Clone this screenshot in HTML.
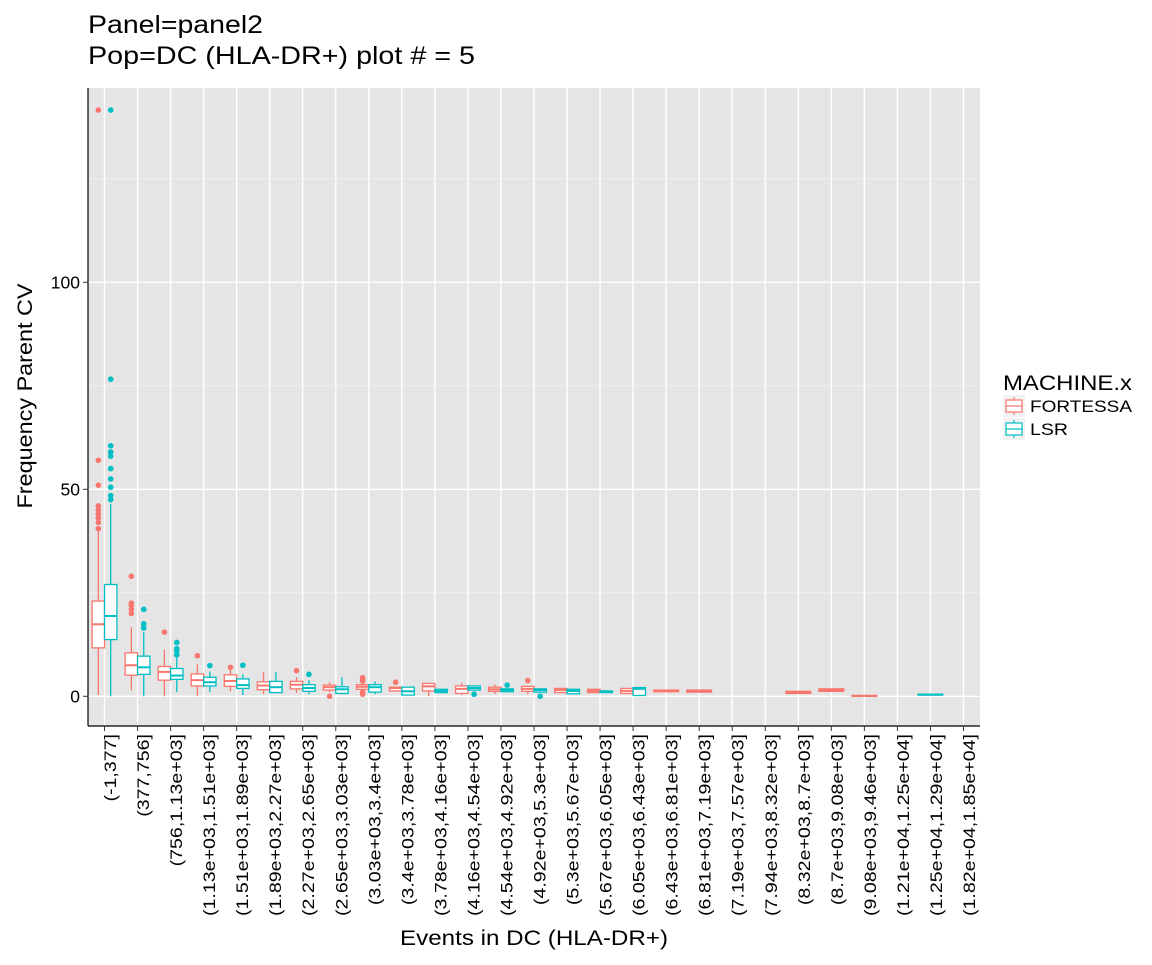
<!DOCTYPE html>
<html><head><meta charset="utf-8"><style>
body{margin:0;background:#fff;}
svg text{font-family:"Liberation Sans",Arial,sans-serif;}
</style></head><body>
<svg id="chart" width="1152" height="960" viewBox="0 0 1152 960">
<text x="88" y="33" font-size="25" fill="#000" textLength="175" lengthAdjust="spacingAndGlyphs">Panel=panel2</text>
<text x="88" y="64" font-size="25" fill="#000" textLength="387" lengthAdjust="spacingAndGlyphs">Pop=DC (HLA-DR+) plot # = 5</text>
<rect x="88" y="88" width="892" height="638" fill="#e5e5e5"/>
<g id="grid"></g>
<g id="marks"></g>
<line x1="88" y1="88" x2="88" y2="726" stroke="#000" stroke-width="1.2"/>
<line x1="88" y1="726" x2="980" y2="726" stroke="#000" stroke-width="1.2"/>
<g id="axes"></g>
<text transform="translate(32,396) rotate(-90)" text-anchor="middle" font-size="21" textLength="225" lengthAdjust="spacingAndGlyphs">Frequency Parent CV</text>
<text x="534" y="945" text-anchor="middle" font-size="21" textLength="268" lengthAdjust="spacingAndGlyphs">Events in DC (HLA-DR+)</text>
<g>
<text x="1003" y="390" font-size="21" textLength="129" lengthAdjust="spacingAndGlyphs">MACHINE.x</text>
<g>
<rect x="1003" y="395" width="22" height="22" fill="#f2f2f2"/>
<line x1="1014" y1="397" x2="1014" y2="415" stroke="#F8766D" stroke-width="1.2"/>
<rect x="1006" y="400" width="16" height="12" fill="#fff" stroke="#F8766D" stroke-width="1.2"/>
<line x1="1006" y1="406" x2="1022" y2="406" stroke="#F8766D" stroke-width="1.2"/>
<text x="1030" y="412" font-size="17" textLength="102" lengthAdjust="spacingAndGlyphs">FORTESSA</text></g>
<g>
<rect x="1003" y="418" width="22" height="22" fill="#f2f2f2"/>
<line x1="1014" y1="420" x2="1014" y2="438" stroke="#00BFC4" stroke-width="1.2"/>
<rect x="1006" y="423" width="16" height="12" fill="#fff" stroke="#00BFC4" stroke-width="1.2"/>
<line x1="1006" y1="429" x2="1022" y2="429" stroke="#00BFC4" stroke-width="1.2"/>
<text x="1030" y="435" font-size="17" textLength="38" lengthAdjust="spacingAndGlyphs">LSR</text></g>
</g>
</svg>
<script>
const categories = ["(-1,377]","(377,756]","(756,1.13e+03]","(1.13e+03,1.51e+03]","(1.51e+03,1.89e+03]","(1.89e+03,2.27e+03]","(2.27e+03,2.65e+03]","(2.65e+03,3.03e+03]","(3.03e+03,3.4e+03]","(3.4e+03,3.78e+03]","(3.78e+03,4.16e+03]","(4.16e+03,4.54e+03]","(4.54e+03,4.92e+03]","(4.92e+03,5.3e+03]","(5.3e+03,5.67e+03]","(5.67e+03,6.05e+03]","(6.05e+03,6.43e+03]","(6.43e+03,6.81e+03]","(6.81e+03,7.19e+03]","(7.19e+03,7.57e+03]","(7.94e+03,8.32e+03]","(8.32e+03,8.7e+03]","(8.7e+03,9.08e+03]","(9.08e+03,9.46e+03]","(1.21e+04,1.25e+04]","(1.25e+04,1.29e+04]","(1.82e+04,1.85e+04]"];
const yTicks = [0, 50, 100];
const yMinor = [25, 75, 125];
// [lowerWhisker, q1, median, q3, upperWhisker] per category (null = no data)
const fortessaStats = [
 [0.3,11.7,17.4,23,40],[1.4,5.1,7.5,10.5,16.7],[0,3.9,5.9,7.2,11.3],[0,2.5,3.9,5.4,7.7],[1.2,2.4,3.7,5.2,6.5],
 [0.5,1.6,2.6,3.5,5.8],[0.8,1.8,2.8,3.6,4.6],[1,1.5,2.2,2.7,3.4],[1,1.7,2.3,2.8,3.5],[1.3,1.3,2,2.2,2.2],
 [0,1.3,2.4,3.1,3.1],[0.3,0.7,1.8,2.5,3.3],[0.5,1.2,1.7,2.2,2.9],[0.5,1.2,1.8,2.4,2.4],[0.9,0.9,1.5,1.9,1.9],
 [0.9,0.9,1.3,1.7,1.7],[0.7,0.7,1.3,1.9,1.9],[1.1,1.1,1.3,1.5,1.5],[1.0,1.0,1.2,1.5,1.5],null,null,
 [0.7,0.7,1.0,1.2,1.2],[1.2,1.2,1.5,1.8,1.8],[0,0,0.1,0.2,0.2],null,null,null];
const lsrStats = [
 [0,13.7,19.4,27,46.5],[0,5.3,7,9.7,15.5],[1,4.1,5,6.7,9.3],[1,2.5,3.4,4.6,6],[0.3,1.9,2.7,4.2,5.3],
 [1,0.9,2.2,3.6,5.8],[0.5,1.2,2,2.8,3.9],[0.5,0.7,1.7,2.3,4.6],[0.5,1,2.2,2.8,3.6],[0.3,0.3,1.2,2.2,2.2],
 [0.9,0.9,1.3,1.7,1.7],[1.5,1.5,2,2.5,2.5],[1.1,1.1,1.5,1.8,1.8],[1,1,1.5,1.8,1.8],[0.6,0.6,1.3,1.7,1.7],
 [0.9,0.9,1.1,1.3,1.3],[0.2,0.2,1.8,2.1,2.1],null,null,null,null,null,null,null,null,[0.3,0.3,0.4,0.5,0.5],null];
const fortessaOutliers = [[141.6,57,51,46,45,44,43,42,40.5],[29,22.5,22,21,20],[15.5],[9.8],[7],[],[6.2],[0],[4.5,4,3.7,1,0.5],[3.4],[],[],[],[3.8],[],[],[],[],[],[],[],[],[],[],[],[],[]];
const lsrOutliers = [[141.6,76.6,60.5,59,58,55,52.5,50.5,48.5,47.5],[21,17.5,16.5],[13,11.5,11,10],[7.4],[7.5],[],[5.3],[],[],[],[],[0.5],[2.7],[0],[],[],[],[],[],[],[],[],[],[],[],[],[]];

const X0 = 88, X1 = 980, Y0 = 88, Y1 = 726;
const band = (X1 - X0) / categories.length;
function xCenter(i){ return X0 + (i + 0.5) * band; }
function yScale(v){ return 696.3 - v * 4.14; }
const NS = "http://www.w3.org/2000/svg";
function mk(tag, attrs, parent){ const e = document.createElementNS(NS, tag); for (const k in attrs) e.setAttribute(k, attrs[k]); parent.appendChild(e); return e; }
const grid = document.getElementById('grid'), marks = document.getElementById('marks'), axes = document.getElementById('axes');

yMinor.forEach(v => { const l = mk('line', {x1:X0, x2:X1, y1:yScale(v), y2:yScale(v), stroke:'#f2f2f2', 'stroke-width':0.8}, grid);
  
   });
yTicks.forEach(v => { const l = mk('line', {x1:X0, x2:X1, y1:yScale(v), y2:yScale(v), stroke:'#fff', 'stroke-width':1.4}, grid);
  
  
  const t = mk('line', {x1:X0-5, x2:X0, y1:yScale(v), y2:yScale(v), stroke:'#333', 'stroke-width':1}, axes);
  
  
  const tx = mk('text', {x:X0-8, y:yScale(v)+6, 'text-anchor':'end', 'font-size':17.5, fill:'#000'}, axes);
  tx.textContent = v;
  
   });
const xLabels = [];
categories.forEach((c, i) => { const x = xCenter(i);
  const l = mk('line', {x1:x, x2:x, y1:Y0, y2:Y1, stroke:'#fff', 'stroke-width':1.4}, grid);
  
  
  const t = mk('line', {x1:x, x2:x, y1:Y1, y2:Y1+5, stroke:'#333', 'stroke-width':1}, axes);
  
  
  const tx = mk('text', {transform:`translate(${x+11.5},${Y1+8}) rotate(-90)`, 'text-anchor':'end', 'font-size':17, fill:'#000'}, axes);
  tx.textContent = c;
  
  
  xLabels.push(tx); });
// stretch labels to match reference width
const longest = xLabels[xLabels.length-1].getComputedTextLength();
const k = longest > 0 ? 182 / longest : 1;
xLabels.forEach(tx => { const w = tx.getComputedTextLength(); if (w > 0){ tx.setAttribute('textLength', (w*k).toFixed(1)); tx.setAttribute('lengthAdjust', 'spacingAndGlyphs'); } });

function drawBox(s, outs, x, w, color, name){
  const g = mk('g', {}, marks);
  
  
  mk('line', {x1:x, x2:x, y1:yScale(s[0]), y2:yScale(s[1]), stroke:color, 'stroke-width':1.3}, g);
  mk('line', {x1:x, x2:x, y1:yScale(s[3]), y2:yScale(s[4]), stroke:color, 'stroke-width':1.3}, g);
  const h = Math.max(yScale(s[1]) - yScale(s[3]), 0.5);
  mk('rect', {x:x-w/2, y:yScale(s[3]), width:w, height:h, fill:'#fff', stroke:color, 'stroke-width':1.3}, g);
  mk('line', {x1:x-w/2, x2:x+w/2, y1:yScale(s[2]), y2:yScale(s[2]), stroke:color, 'stroke-width':2}, g);
  outs.forEach(v => { const c = mk('circle', {cx:x, cy:yScale(v), r:2.8, fill:color}, g);
    
     });
}
categories.forEach((c, i) => {
  const f = fortessaStats[i], l = lsrStats[i], x = xCenter(i);
  const bw = band * 0.75;
  if (f && l){
    drawBox(f, fortessaOutliers[i], x - bw/4, bw/2, '#F8766D', 'box-fortessa-' + i);
    drawBox(l, lsrOutliers[i], x + bw/4, bw/2, '#00BFC4', 'box-lsr-' + i);
  } else if (f){ drawBox(f, fortessaOutliers[i], x, bw, '#F8766D', 'box-fortessa-' + i); }
  else if (l){ drawBox(l, lsrOutliers[i], x, bw, '#00BFC4', 'box-lsr-' + i); }
});
</script>
</body></html>
